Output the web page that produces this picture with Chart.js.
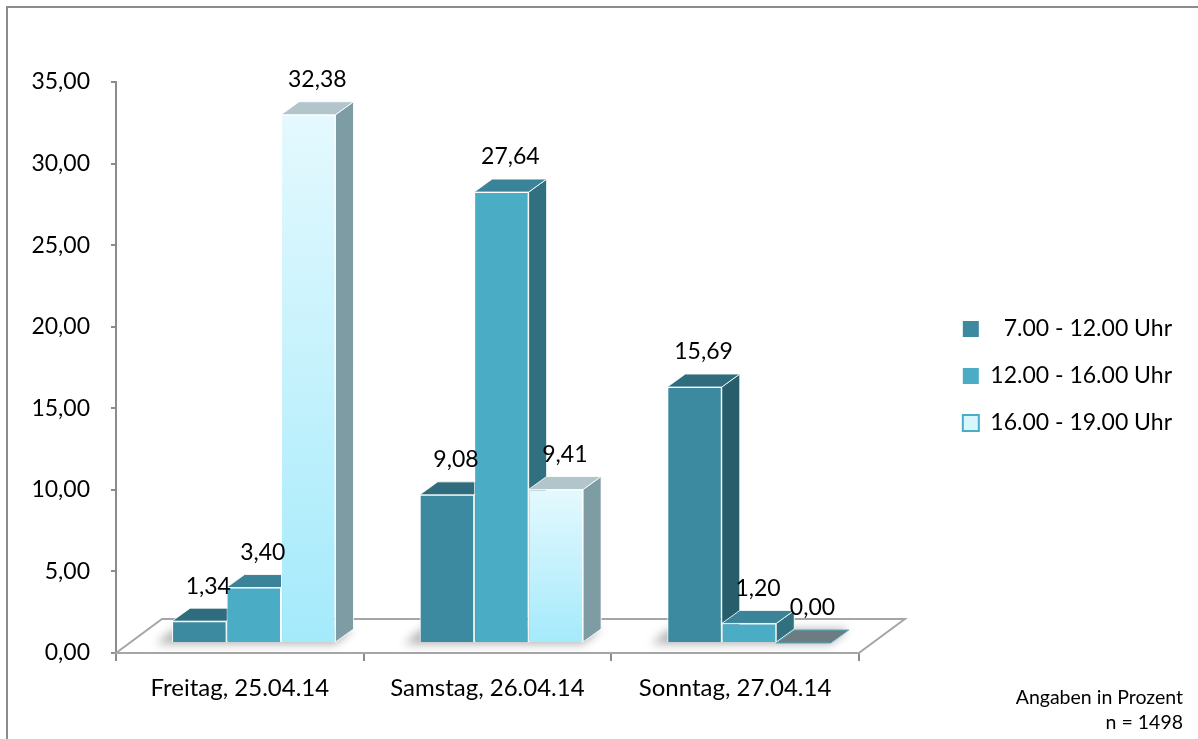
<!DOCTYPE html>
<html>
<head>
<meta charset="utf-8">
<script src="https://cdn.jsdelivr.net/npm/chart.js@4.4.1/dist/chart.umd.min.js"></script>
<style>
  html, body { margin: 0; padding: 0; background: #fff; }
  #wrap { width: 1198px; height: 739px; }
</style>
</head>
<body>
<div id="wrap"><canvas id="myChart" width="1198" height="739"></canvas></div>
<script>
const categories = ["Freitag, 25.04.14", "Samstag, 26.04.14", "Sonntag, 27.04.14"];
const seriesNames = ["\u20077.00 - 12.00 Uhr", "12.00 - 16.00 Uhr", "16.00 - 19.00 Uhr"];
const morning = [1.34, 9.08, 15.69];
const midday = [3.40, 27.64, 1.20];
const evening = [32.38, 9.41, 0.00];
const yTicks = [0, 5, 10, 15, 20, 25, 30, 35];
const noteLines = ["Angaben in Prozent", "n = 1498"];

// front / top / side colours of each series
const faces = [
	{ front: "#3C8AA0", top: "#2F6D7E", side: "#285D6B" },
	{ front: "#4BACC6", top: "#3A8399", side: "#30707F" },
	{ front: "#C9F2FC", top: "#B2C5CA", side: "#7E9CA4" },
];

const floorDepth = { dx: 46, dy: -34 };
const barShift = { dx: 14, dy: -10 };
const barDepth = { dx: 18, dy: -13 };

const family = "Lato, 'Open Sans', sans-serif";
Chart.defaults.font.family = family;
Chart.defaults.font.size = 23;
Chart.defaults.color = "#000";

const fmt = (v) => Number(v).toFixed(2).replace(".", ",");

const lightGradient = (c) => {
	const chart = c.chart;
	if (!chart.chartArea || c.raw == null) return faces[2].front;
	const y = chart.scales.y;
	const top = y.getPixelForValue(c.raw);
	const bottom = y.getPixelForValue(0);
	const g = chart.ctx.createLinearGradient(0, top, 0, bottom + 1);
	g.addColorStop(0, "#E4F9FE");
	g.addColorStop(1, "#A4EAFB");
	return g;
};

const poly = (ctx, pts, fill, stroke) => {
	ctx.beginPath();
	ctx.moveTo(pts[0][0], pts[0][1]);
	for (let i = 1; i < pts.length; i++) ctx.lineTo(pts[i][0], pts[i][1]);
	ctx.closePath();
	if (fill) {
		ctx.fillStyle = fill;
		ctx.fill();
	}
	if (stroke) {
		ctx.strokeStyle = stroke;
		ctx.stroke();
	}
};

const bars3d = {
	id: "bars3d",
	beforeDraw(chart) {
		const { ctx, width, height } = chart;
		ctx.save();
		ctx.strokeStyle = "#8C8C8C";
		ctx.lineWidth = 2;
		ctx.strokeRect(7, 7, width + 20, height + 20);
		ctx.restore();
	},
	beforeDatasetsDraw(chart) {
		const { ctx, chartArea: a } = chart;
		// floor
		ctx.save();
		ctx.lineWidth = 2;
		poly(ctx, [
			[a.left, a.bottom],
			[a.left + floorDepth.dx, a.bottom + floorDepth.dy],
			[a.right + floorDepth.dx, a.bottom + floorDepth.dy],
			[a.right, a.bottom],
		], "#fff", "#A6A6A6");
		ctx.restore();

		ctx.save();
		ctx.translate(barShift.dx, barShift.dy);

		// soft shadows under each group
		categories.forEach((_, i) => {
			const first = chart.getDatasetMeta(0).data[i];
			const last = chart.getDatasetMeta(chart.data.datasets.length - 1).data[i];
			const L = first.x - first.width / 2;
			const R = last.x + last.width / 2;
			const B = first.base;
			ctx.save();
			ctx.filter = "blur(5px)";
			poly(ctx, [
				[L - 16, B + 2],
				[R, B + 2],
				[R + barDepth.dx, B + barDepth.dy],
				[L - 16 + barDepth.dx, B + barDepth.dy],
			], "rgba(0,0,0,0.3)");
			ctx.restore();
		});

		// top and side faces, left to right
		ctx.lineWidth = 1;
		categories.forEach((_, i) => {
			chart.data.datasets.forEach((ds, d) => {
				const bar = chart.getDatasetMeta(d).data[i];
				const f = faces[d];
				const L = bar.x - bar.width / 2;
				const R = bar.x + bar.width / 2;
				const T = bar.y;
				const B = bar.base;
				const zero = ds.data[i] === 0;
				poly(ctx, [
					[R, T],
					[R + barDepth.dx, T + barDepth.dy],
					[R + barDepth.dx, B + barDepth.dy],
					[R, B],
				], f.side, "rgba(255,255,255,0.85)");
				poly(ctx, [
					[L, T],
					[R, T],
					[R + barDepth.dx, T + barDepth.dy],
					[L + barDepth.dx, T + barDepth.dy],
				], zero ? "#6C7C80" : f.top, zero ? "#4BACC6" : "rgba(255,255,255,0.85)");
			});
		});
	},
	afterDatasetsDraw(chart) {
		const { ctx } = chart;
		ctx.restore();

		// value labels
		ctx.save();
		ctx.font = "23px " + family;
		ctx.fillStyle = "#000";
		ctx.textAlign = "center";
		ctx.textBaseline = "middle";
		chart.data.datasets.forEach((ds, d) => {
			chart.getDatasetMeta(d).data.forEach((bar, i) => {
				const x = bar.x + barShift.dx + barDepth.dx / 2;
				const y = bar.y + barShift.dy - 35;
				ctx.fillText(fmt(ds.data[i]), x, y);
			});
		});

		// note bottom right
		ctx.font = "19.5px " + family;
		ctx.textAlign = "right";
		ctx.textBaseline = "alphabetic";
		noteLines.forEach((t, k) => ctx.fillText(t, 1183, 704 + k * 25));
		ctx.restore();
	},
};

const ctx = document.getElementById("myChart");

const myChart = new Chart(ctx, {
	type: "bar",
	data: {
		labels: categories,
		datasets: [
			{ label: seriesNames[0], data: morning, backgroundColor: faces[0].front },
			{ label: seriesNames[1], data: midday, backgroundColor: faces[1].front },
			{ label: seriesNames[2], data: evening, backgroundColor: lightGradient },
		].map((ds) => ({
			...ds,
			borderColor: "#fff",
			borderWidth: 1,
			barPercentage: 1,
			categoryPercentage: 0.66,
			clip: false,
		})),
	},
	options: {
		responsive: false,
		animation: false,
		devicePixelRatio: 1,
		layout: { padding: { left: 28, top: 82, right: 16, bottom: 0 } },
		plugins: {
			tooltip: { enabled: false },
			legend: {
				position: "right",
				align: "start",
				maxWidth: 300,
				// empty title only pushes the items down to the middle
				title: { display: true, text: " ", font: { size: 22 }, padding: { top: 185, bottom: 0 } },
				labels: {
					boxWidth: 16,
					boxHeight: 16,
					padding: 24,
					color: "#000",
					font: { size: 23 },
					generateLabels: (chart) => {
						const items = Chart.defaults.plugins.legend.labels.generateLabels(chart);
						items.forEach((item, i) => {
							item.fontColor = "#000";
							if (i === 2) {
								item.fillStyle = "#D8F6FD";
								item.strokeStyle = "#4BACC6";
								item.lineWidth = 2;
							} else {
								item.fillStyle = faces[i].front;
								item.strokeStyle = faces[i].front;
								item.lineWidth = 0;
							}
						});
						return items;
					},
				},
			},
		},
		scales: {
			x: {
				grid: { drawOnChartArea: false, tickLength: 8, color: "#8C8C8C", lineWidth: 2 },
				border: { color: "#8C8C8C", width: 2 },
				ticks: { padding: 13, maxRotation: 0, font: { size: 24 } },
				afterFit: (s) => {
					s.height = 86;
				},
			},
			y: {
				min: 0,
				max: 35,
				afterBuildTicks: (s) => {
					s.ticks = yTicks.map((v) => ({ value: v }));
				},
				grid: { drawOnChartArea: false, tickLength: 5, color: "#8C8C8C", lineWidth: 2 },
				border: { color: "#8C8C8C", width: 2 },
				ticks: { padding: 21, callback: (v) => fmt(v) },
				afterFit: (s) => {
					s.width = 88;
				},
			},
			gap: {
				position: "right",
				grid: { display: false },
				ticks: { display: false },
				border: { display: false },
				afterFit: (s) => {
					s.width = 80;
				},
			},
		},
	},
	plugins: [bars3d],
});
</script>
</body>
</html>
